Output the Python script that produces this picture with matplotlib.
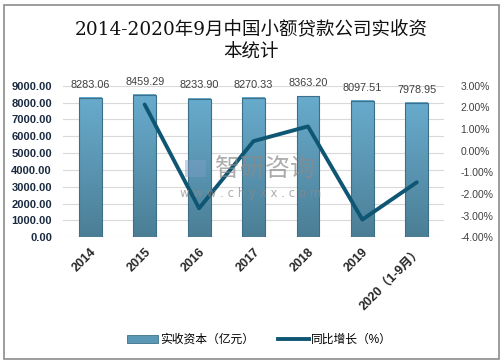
import numpy as np
import matplotlib
matplotlib.use('Agg')
import matplotlib.pyplot as plt
from matplotlib.patches import Rectangle, Patch
from matplotlib.lines import Line2D
from matplotlib.colors import LinearSegmentedColormap

plt.rcParams['font.family'] = ['Liberation Sans', 'Noto Sans CJK SC', 'DejaVu Sans']

# 数据
anos = ['2014', '2015', '2016', '2017', '2018', '2019', '2020（1-9月）']
capital = [8283.06, 8459.29, 8233.90, 8270.33, 8363.20, 8097.51, 7978.95]
crescimento = [None, 2.13, -2.66, 0.44, 1.12, -3.18, -1.46]

fig = plt.figure(figsize=(5.04, 3.64), dpi=100)

# borda cinza da figura
fig.patches.append(Rectangle((4 / 504, 5 / 364), 495 / 504, 354 / 364, transform=fig.transFigure,
                             fill=False, edgecolor='#8c8c8c', linewidth=1.2))

ax = fig.add_axes([0.125, 0.348, 0.756, 0.4166])
ax2 = ax.twinx()

x = np.arange(len(anos))
largura = 0.42

# barras com degradê vertical
cmap = LinearSegmentedColormap.from_list('barra', ['#4b7e95', '#5a95b2', '#68abcc'])
grad = np.linspace(0, 1, 256).reshape(-1, 1)
for xi, v in zip(x, capital):
    ax.imshow(grad, extent=[xi - largura / 2, xi + largura / 2, 0, v], origin='lower',
              cmap=cmap, aspect='auto', zorder=2)
    ax.add_patch(Rectangle((xi - largura / 2, 0), largura, v, fill=False,
                           edgecolor='#3d7088', linewidth=0.8, zorder=3))
    ax.annotate(f'{v:.2f}', (xi, v), xytext=(0, 9.5), textcoords='offset points',
                ha='center', va='center', fontsize=7.8, color='#404040')

ax.set_xlim(-0.5, len(anos) - 0.5)
ax.set_ylim(0, 9000)
ax.set_yticks(np.arange(0, 9001, 1000))
ax.set_yticklabels([f'{t:.2f}' for t in np.arange(0, 9001, 1000)], fontsize=8,
                   fontweight='bold', color='#1a2a40')
ax.grid(axis='y', color='#d9d9d9', linewidth=0.8, zorder=0)
ax.set_axisbelow(True)
ax.set_xticks(x)
ax.set_xticklabels(anos, rotation=45, ha='right', rotation_mode='anchor',
                   fontsize=9, fontweight='bold', color='#262626')
ax.tick_params(axis='both', length=0, pad=8)
ax.tick_params(axis='x', pad=6)

# linha de crescimento
xs = [xi for xi, c in zip(x, crescimento) if c is not None]
ys = [c for c in crescimento if c is not None]
ax2.plot(xs, ys, color='#0e5673', linewidth=2.8, solid_capstyle='round', zorder=5)
ax2.set_ylim(-4, 3)
ax2.set_yticks(np.arange(-4, 3.1, 1))
ax2.set_yticklabels([f'{t:.2f}%' for t in np.arange(-4, 3.1, 1)], fontsize=7.5, color='#404040')
ax2.tick_params(axis='y', length=0, pad=12)

for a in (ax, ax2):
    for s in a.spines.values():
        s.set_visible(False)

# marca d'água
fig.patches.append(Rectangle((185 / 504, 1 - 177 / 364), 21 / 504, 17 / 364, transform=fig.transFigure,
                             facecolor='#7f9fc8', alpha=0.45, edgecolor='none', zorder=10))
fig.text(265 / 504, 1 - 169 / 364, '智研咨询', fontsize=18, color='#8a8a8a', alpha=0.7, ha='center',
         va='center', family=['Noto Sans CJK SC'], zorder=10)
fig.text(251 / 504, 1 - 193 / 364, 'w w w . c h y x x . c o m', fontsize=8.5, color='#8a8a8a', alpha=0.7,
         ha='center', va='center', family=['DejaVu Sans'], zorder=10)

# título
fig.text(0.499, 1 - 29 / 364, '2014-2020年9月中国小额贷款公司实收资', fontsize=13.3,
         family=['DejaVu Serif', 'Noto Sans CJK SC'], ha='center', va='center', color='#111111')
fig.text(0.499, 1 - 53 / 364, '本统计', fontsize=13.3,
         family=['DejaVu Serif', 'Noto Sans CJK SC'], ha='center', va='center', color='#111111')

# legenda
handles = [Patch(facecolor='#5b98b6', edgecolor='#3d7088', linewidth=0.6),
           Line2D([0], [0], color='#0e5673', linewidth=2.8)]
fig.legend(handles, ['实收资本（亿元）', '同比增长（%）'], loc='center', bbox_to_anchor=(0.515, 1 - 340 / 364),
           ncol=2, frameon=False, fontsize=8.5, handlelength=2.6, handleheight=0.6,
           columnspacing=2.0, handletextpad=0.2)

fig.savefig('out.png', dpi=100)
